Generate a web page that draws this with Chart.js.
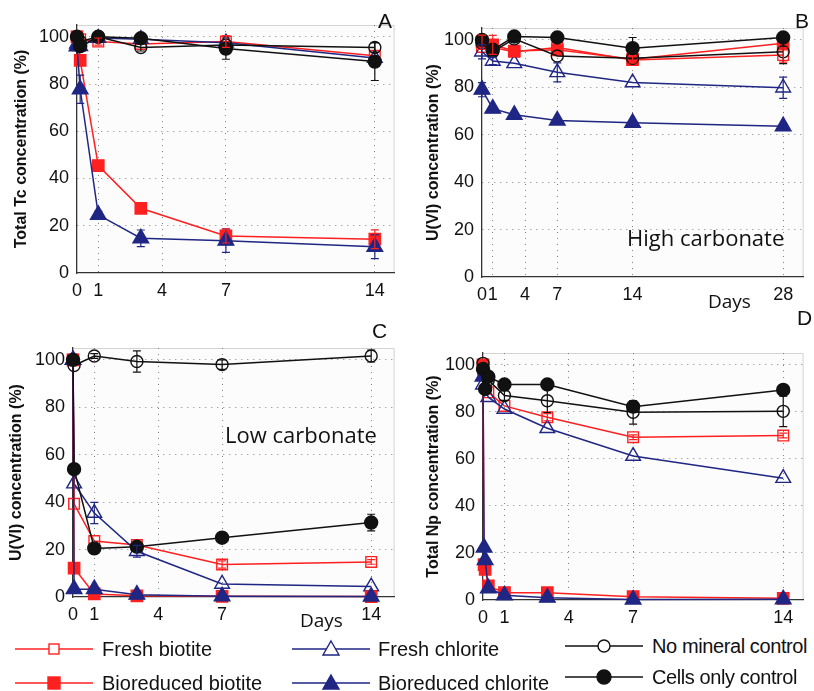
<!DOCTYPE html>
<html>
<head>
<meta charset="utf-8">
<script src="https://cdn.jsdelivr.net/npm/chart.js@4.4.1/dist/chart.umd.min.js"></script>
<style>
  body { margin: 0; background: #fff; width: 814px; height: 691px; position: relative; overflow: hidden;
         font-family: 'Liberation Sans', Arial, sans-serif; color: #111; }
  canvas { position: absolute; }
  .lbl { position: absolute; white-space: nowrap; line-height: 1; }
  .letter { font-size: 21px; }
  .note { font-family: 'Open Sans', sans-serif; font-size: 22px; }
  .days { font-family: 'Open Sans', sans-serif; font-size: 19px; }
  .legtxt { position: absolute; white-space: nowrap; font-size: 20px; line-height: 24px; }
  .legsym { position: absolute; }
</style>
</head>
<body>
<canvas id="chartA" width="405" height="305" style="left:0;top:0"></canvas>
<canvas id="chartB" width="409" height="305" style="left:405px;top:0"></canvas>
<canvas id="chartC" width="405" height="320" style="left:0;top:305px"></canvas>
<canvas id="chartD" width="409" height="320" style="left:405px;top:305px"></canvas>

<div class="lbl letter" style="left:378px;top:10px">A</div>
<div class="lbl letter" style="left:795px;top:10px">B</div>
<div class="lbl letter" style="left:372px;top:320px">C</div>
<div class="lbl letter" style="left:797px;top:307px">D</div>
<div class="lbl note" style="left:627px;top:226px">High carbonate</div>
<div class="lbl note" style="left:225px;top:423px">Low carbonate</div>
<div class="lbl days" style="left:708px;top:292px">Days</div>
<div class="lbl days" style="left:300px;top:611px">Days</div>

<div id="legend"></div>

<script>
// shared axis ticks
const yTicks = [0, 20, 40, 60, 80, 100];
const xTicksShort = [0, 1, 4, 7, 14];
const xTicksLong = [0, 1, 4, 7, 14, 28];

// A: total Tc
const tcDays = [0, 0.15, 1, 3, 7, 14];
const tcFreshBiotite = [100, 99, 98, 97, 98, 92];
const tcFreshBiotiteErr = [0, 0, 1.5, 0, 2.5, 0];
const tcBioBiotite = [100, 90, 45.5, 27.4, 15.7, 14.3];
const tcBioBiotiteErr = [0, 0, 0, 0, 3, 4];
const tcFreshChlorite = [97, 96, 99.5, 99, 97.5, 91];
const tcBioChlorite = [96, 77.8, 24.6, 14.7, 13.7, 11.1];
const tcBioChloriteErr = [0, 6, 1.5, 3.5, 5, 5];
const tcNoMineral = [100, 98, 100, 95.5, 96.5, 95.5];
const tcNoMineralErr = [0, 0, 0, 1.5, 0, 2];
const tcCellsOnly = [100, 96, 100, 99.4, 95, 89.5];
const tcCellsOnlyErr = [0, 0, 0, 0, 4.5, 8];

// B: U(VI), high carbonate
const uHighDays = [0, 1, 3, 7, 14, 28];
const uHighFreshBiotite = [97, 96.8, 95, 96.8, 91.5, 93.6];
const uHighFreshBiotiteErr = [0, 0, 0, 0, 0, 3];
const uHighBioBiotite = [99, 97.9, 95.3, 95.8, 91.8, 98.6];
const uHighBioBiotiteErr = [3, 4, 2, 0, 1.5, 0];
const uHighFreshChlorite = [95, 91.1, 90.1, 86.3, 82, 79.8];
const uHighFreshChloriteErr = [3, 1.5, 0, 4, 0, 4.5];
const uHighBioChlorite = [79, 71, 68.4, 66, 65, 63.6];
const uHighBioChloriteErr = [3, 0, 0, 0, 0, 1];
const uHighNoMineral = [98.6, 95, 100.4, 93.2, 92.2, 95];
const uHighNoMineralErr = [0, 0, 0, 0, 0, 5];
const uHighCellsOnly = [100, 95.8, 101.4, 101, 96.5, 101];
const uHighCellsOnlyErr = [0, 0, 0, 0, 4.5, 0];

// C: U(VI), low carbonate
const uLowDays = [0, 0.05, 1, 3, 7, 14];
const uLowFreshBiotite = [100, 39.3, 23.6, 21.9, 13.7, 14.8];
const uLowFreshBiotiteErr = [0, 0, 0, 0, 1.5, 1];
const uLowBioBiotite = [100, 12.2, 1.3, 0.5, 0.3, 0.2];
const uLowFreshChlorite = [100, 47.8, 35.4, 19.3, 5.5, 4.4];
const uLowFreshChloriteErr = [0, 0, 4.5, 2.5, 0, 0];
const uLowBioChlorite = [100, 3.3, 3.3, 1, 0.3, 0.2];
const uLowNoMineral = [null, 97.6, 101.6, 99.3, 98, 101.6];
const uLowNoMineralErr = [0, 0, 1, 4.5, 2, 2.5];
const uLowCellsOnly = [100, 53.9, 20.5, 21.2, 25, 31.4];
const uLowCellsOnlyErr = [0, 0, 0, 0, 0, 3.5];

// D: total Np
const npDays = [0, 0.05, 0.1, 0.25, 1, 3, 7, 14];
const npFreshBiotite = [98, null, null, 88.3, 82.5, 77.7, 69.2, 69.9];
const npFreshBiotiteErr = [0, 0, 0, 0, 0, 1.5, 1, 1];
const npBioBiotite = [100, 15, 13, 6, 3.1, 3.1, 1.4, 0.7];
const npFreshChlorite = [91.5, null, null, 86.2, 81.2, 73, 61.2, 51.8];
const npBioChlorite = [95, 22.3, 17, 5, 2, 1, 0.2, 0.3];
const npNoMineral = [100.6, null, null, 93.5, 86.9, 84.7, 79.8, 80.2];
const npNoMineralErr = [0, 0, 0, 0, 2, 5, 5, 6.5];
const npCellsOnly = [98.2, null, 89.7, 94.9, 91.6, 91.6, 82.2, 89.3];

const RED = '#ff2020';
const BLUE = '#1f2683';
const BLACK = '#111111';
const FONT = "'Liberation Sans', Arial, sans-serif";

const styles = {
  freshBiotite:  { label: 'Fresh biotite',       color: RED,   shape: 'rect',     filled: false },
  bioBiotite:    { label: 'Bioreduced biotite',  color: RED,   shape: 'rect',     filled: true },
  freshChlorite: { label: 'Fresh chlorite',      color: BLUE,  shape: 'triangle', filled: false },
  bioChlorite:   { label: 'Bioreduced chlorite', color: BLUE,  shape: 'triangle', filled: true },
  noMineral:     { label: 'No mineral control',  color: BLACK, shape: 'circle',   filled: false },
  cellsOnly:     { label: 'Cells only control',  color: BLACK, shape: 'circle',   filled: true }
};
const radius = { rect: 8, triangle: 9, circle: 6.5 };

function dataset(key, days, values, errors) {
  const s = styles[key];
  return {
    label: s.label,
    data: days.map((d, i) => ({ x: d, y: values[i] })),
    errors: errors || null,
    borderColor: s.color,
    backgroundColor: s.color,
    borderWidth: 1.5,
    pointStyle: s.shape,
    pointRadius: radius[s.shape] - (s.filled ? 0 : 0.5),
    pointBorderWidth: 1.4,
    pointBorderColor: s.color,
    pointBackgroundColor: s.filled ? s.color : 'rgba(255,255,255,0)',
    spanGaps: true,
    tension: 0,
    clip: false
  };
}

// vertical error bars, computed through the chart's scales
const errorBars = {
  id: 'errorBars',
  afterDatasetsDraw(chart) {
    const { ctx, scales: { x, y } } = chart;
    chart.data.datasets.forEach(ds => {
      if (!ds.errors) return;
      ctx.save();
      ctx.strokeStyle = ds.borderColor;
      ctx.lineWidth = 1.2;
      ds.data.forEach((p, j) => {
        const e = ds.errors[j];
        if (!e || p.y == null) return;
        const px = x.getPixelForValue(p.x);
        const top = y.getPixelForValue(p.y + e);
        const bot = y.getPixelForValue(p.y - e);
        ctx.beginPath();
        ctx.moveTo(px, top); ctx.lineTo(px, bot);
        ctx.moveTo(px - 4, top); ctx.lineTo(px + 4, top);
        ctx.moveTo(px - 4, bot); ctx.lineTo(px + 4, bot);
        ctx.stroke();
      });
      ctx.restore();
    });
  }
};

const plotFrame = {
  id: 'plotFrame',
  beforeDraw(chart) {
    const { ctx, chartArea: a } = chart;
    ctx.save();
    ctx.fillStyle = '#fcfcfc';
    ctx.fillRect(a.left, a.top, a.width, a.height);
    ctx.strokeStyle = '#d4d4d4';
    ctx.lineWidth = 1;
    ctx.beginPath();
    ctx.moveTo(a.left, a.top + 0.5);
    ctx.lineTo(a.right - 0.5, a.top + 0.5);
    ctx.lineTo(a.right - 0.5, a.bottom);
    ctx.stroke();
    ctx.restore();
  }
};

const gridColor = c => (c.tick && c.tick.value === 0) ? 'rgba(0,0,0,0)' : '#808080';

function makePanel(id, yTitle, xTicks, xMax, datasets, box) {
  new Chart(document.getElementById(id), {
    type: 'line',
    data: { datasets },
    options: {
      responsive: false,
      animation: false,
      devicePixelRatio: 1,
      layout: { padding: { top: box.top, right: box.right, left: 0, bottom: 0 } },
      plugins: { legend: { display: false }, tooltip: { enabled: false } },
      scales: {
        x: {
          type: 'linear', min: 0, max: xMax,
          afterBuildTicks: s => { s.ticks = xTicks.map(v => ({ value: v })); },
          afterFit: s => { s.height = box.xHeight; s.paddingLeft = 0; s.paddingRight = 0; },
          grid: { color: gridColor, lineWidth: 1, drawTicks: false },
          border: { color: '#333', width: 1.3, dash: [1, 5] },
          ticks: { color: '#111', font: { family: FONT, size: 18 }, padding: 7, autoSkip: false, maxRotation: 0 }
        },
        y: {
          type: 'linear', min: 0, max: 105,
          afterBuildTicks: s => { s.ticks = yTicks.map(v => ({ value: v })); },
          afterFit: s => { s.width = box.yWidth; },
          grid: { color: gridColor, lineWidth: 1, drawTicks: false },
          border: { color: '#333', width: 1.3, dash: [1, 5] },
          ticks: { color: '#111', font: { family: FONT, size: 18 }, padding: 8 },
          title: {
            display: true, text: yTitle, color: '#111',
            font: { family: FONT, size: 16, weight: 'bold' },
            padding: { top: box.titlePad, bottom: 0 }
          }
        }
      }
    },
    plugins: [plotFrame, errorBars]
  });
}

makePanel('chartA', 'Total Tc concentration (%)', xTicksShort, 14.93, [
  dataset('cellsOnly', tcDays, tcCellsOnly, tcCellsOnlyErr),
  dataset('noMineral', tcDays, tcNoMineral, tcNoMineralErr),
  dataset('bioChlorite', tcDays, tcBioChlorite, tcBioChloriteErr),
  dataset('bioBiotite', tcDays, tcBioBiotite, tcBioBiotiteErr),
  dataset('freshChlorite', tcDays, tcFreshChlorite),
  dataset('freshBiotite', tcDays, tcFreshBiotite, tcFreshBiotiteErr)
], { top: 25, right: 7, yWidth: 77, xHeight: 32, titlePad: 12 });

makePanel('chartB', 'U(VI) concentration (%)', xTicksLong, 29.9, [
  dataset('cellsOnly', uHighDays, uHighCellsOnly, uHighCellsOnlyErr),
  dataset('noMineral', uHighDays, uHighNoMineral, uHighNoMineralErr),
  dataset('bioChlorite', uHighDays, uHighBioChlorite, uHighBioChloriteErr),
  dataset('bioBiotite', uHighDays, uHighBioBiotite, uHighBioBiotiteErr),
  dataset('freshChlorite', uHighDays, uHighFreshChlorite, uHighFreshChloriteErr),
  dataset('freshBiotite', uHighDays, uHighFreshBiotite, uHighFreshBiotiteErr)
], { top: 28, right: 9, yWidth: 77, xHeight: 28, titlePad: 19 });

makePanel('chartC', 'U(VI) concentration (%)', xTicksShort, 15.1, [
  dataset('cellsOnly', uLowDays, uLowCellsOnly, uLowCellsOnlyErr),
  dataset('noMineral', uLowDays, uLowNoMineral, uLowNoMineralErr),
  dataset('bioChlorite', uLowDays, uLowBioChlorite),
  dataset('bioBiotite', uLowDays, uLowBioBiotite),
  dataset('freshChlorite', uLowDays, uLowFreshChlorite, uLowFreshChloriteErr),
  dataset('freshBiotite', uLowDays, uLowFreshBiotite, uLowFreshBiotiteErr)
], { top: 43, right: 9, yWidth: 73, xHeight: 28, titlePad: 7 });

makePanel('chartD', 'Total Np concentration (%)', xTicksShort, 14.95, [
  dataset('cellsOnly', npDays, npCellsOnly),
  dataset('noMineral', npDays, npNoMineral, npNoMineralErr),
  dataset('bioChlorite', npDays, npBioChlorite),
  dataset('bioBiotite', npDays, npBioBiotite),
  dataset('freshChlorite', npDays, npFreshChlorite),
  dataset('freshBiotite', npDays, npFreshBiotite, npFreshBiotiteErr)
], { top: 48, right: 8, yWidth: 78, xHeight: 25, titlePad: 19 });

// legend (three columns, two rows)
const legendItems = [
  { key: 'freshBiotite',  x: 15,  y: 649, tx: 102 },
  { key: 'bioBiotite',    x: 15,  y: 683, tx: 102 },
  { key: 'freshChlorite', x: 292, y: 649, tx: 378 },
  { key: 'bioChlorite',   x: 292, y: 683, tx: 378 },
  { key: 'noMineral',     x: 565, y: 646, tx: 652, tight: true },
  { key: 'cellsOnly',     x: 565, y: 677, tx: 652, tight: true }
];

function symbolSvg(s) {
  const fill = s.filled ? s.color : '#fff';
  let m;
  if (s.shape === 'rect') {
    const h = s.filled ? 6 : 5;
    m = `<rect x="${39 - h}" y="${10 - h}" width="${2 * h}" height="${2 * h}" fill="${fill}" stroke="${s.color}" stroke-width="1.4"/>`;
  } else if (s.shape === 'triangle') {
    m = `<polygon points="39,2 47,16 31,16" fill="${fill}" stroke="${s.color}" stroke-width="1.4"/>`;
  } else {
    m = `<circle cx="39" cy="10" r="${s.filled ? 7 : 6}" fill="${fill}" stroke="${s.color}" stroke-width="1.4"/>`;
  }
  return `<svg width="78" height="20" viewBox="0 0 78 20"><line x1="0" y1="10" x2="78" y2="10" stroke="${s.color}" stroke-width="1.5"/>${m}</svg>`;
}

const legend = document.getElementById('legend');
legendItems.forEach(it => {
  const s = styles[it.key];
  const sym = document.createElement('div');
  sym.className = 'legsym';
  sym.style.left = it.x + 'px';
  sym.style.top = (it.y - 10) + 'px';
  sym.innerHTML = symbolSvg(s);
  legend.appendChild(sym);
  const t = document.createElement('div');
  t.className = 'legtxt';
  t.style.left = it.tx + 'px';
  t.style.top = (it.y - 12) + 'px';
  if (it.tight) t.style.letterSpacing = '-0.4px';
  t.textContent = s.label;
  legend.appendChild(t);
});
</script>
</body>
</html>
